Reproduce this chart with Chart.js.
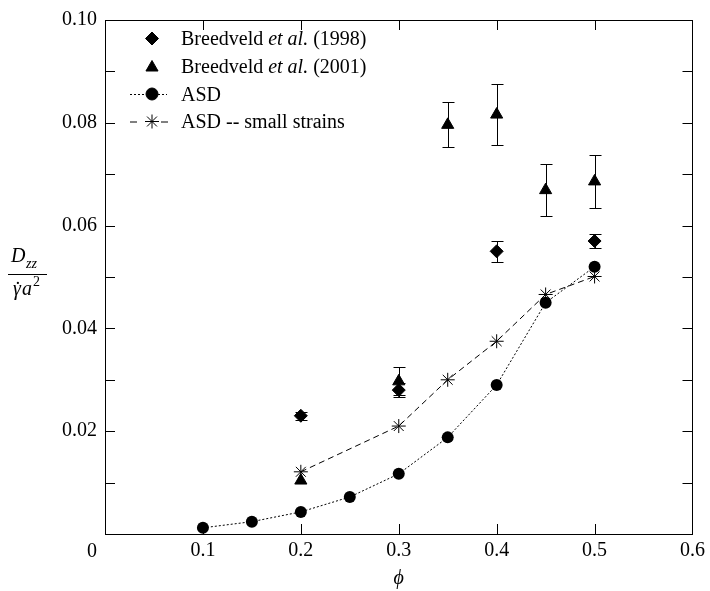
<!DOCTYPE html>
<html>
<head>
<meta charset="utf-8">
<script src="https://cdn.jsdelivr.net/npm/chart.js@4.4.1/dist/chart.umd.min.js"></script>
<style>
  html, body { margin: 0; padding: 0; background: #fff; }
  canvas { display: block; }
</style>
</head>
<body>
<canvas id="myCan" width="710" height="591"></canvas>
<script>
// data
var phiASD = [0.1, 0.15, 0.2, 0.25, 0.3, 0.35, 0.4, 0.45, 0.5];
var asd = [0.0012, 0.0024, 0.0043, 0.0072, 0.0117, 0.0188, 0.029, 0.045, 0.052];

var phiSmall = [0.2, 0.3, 0.35, 0.4, 0.45, 0.5];
var asdSmall = [0.0121, 0.021, 0.030, 0.0375, 0.0466, 0.0501];

var phi1998 = [0.2, 0.3, 0.4, 0.5];
var b1998 = [0.023, 0.028, 0.055, 0.057];
var err1998 = [0.0008, 0.0013, 0.002, 0.0014];

var phi2001 = [0.2, 0.3, 0.35, 0.4, 0.45, 0.5];
var b2001 = [0.0104, 0.0297, 0.0796, 0.0816, 0.0669, 0.0686];
var err2001 = [0, 0.0027, 0.0044, 0.006, 0.005, 0.0051];

var xTickLabels = ['', '0.1', '0.2', '0.3', '0.4', '0.5', '0.6'];
var yTickLabels = ['', '', '0.02', '', '0.04', '', '0.06', '', '0.08', '', '0.10'];
var cornerLabel = '0';

var legendRows = [
  ['Breedveld ', 'et al.', ' (1998)'],
  ['Breedveld ', 'et al.', ' (2001)'],
  ['ASD', '', ''],
  ['ASD -- small strains', '', '']
];

var serif = "'Liberation Serif', 'Times New Roman', Times, serif";
var fs = 20;

function pts(xs, ys) {
  return xs.map(function (x, i) { return { x: x, y: ys[i] }; });
}

var errPlugin = {
  id: 'errbars',
  beforeDatasetsDraw: function (chart) {
    var ctx = chart.ctx, sx = chart.scales.x, sy = chart.scales.y;
    ctx.save();
    ctx.strokeStyle = '#000';
    ctx.lineWidth = 1;
    [[phi1998, b1998, err1998], [phi2001, b2001, err2001]].forEach(function (s) {
      s[0].forEach(function (p, i) {
        if (!s[2][i]) return;
        var px = Math.round(sx.getPixelForValue(p)) + 0.5;
        var top = Math.round(sy.getPixelForValue(s[1][i] + s[2][i])) + 0.5;
        var bot = Math.round(sy.getPixelForValue(s[1][i] - s[2][i])) + 0.5;
        ctx.beginPath();
        ctx.moveTo(px, top); ctx.lineTo(px, bot);
        ctx.moveTo(px - 6, top); ctx.lineTo(px + 6, top);
        ctx.moveTo(px - 6, bot); ctx.lineTo(px + 6, bot);
        ctx.stroke();
      });
    });
    ctx.restore();
  }
};

function marker(ctx, style, r, x, y) {
  var opts = { pointStyle: style, radius: r, rotation: 0, borderWidth: 1 };
  ctx.fillStyle = '#000';
  ctx.strokeStyle = '#000';
  ctx.lineWidth = 1;
  ctx.setLineDash([]);
  Chart.helpers.drawPoint(ctx, opts, x, y);
}

var framePlugin = {
  id: 'frame',
  afterDraw: function (chart) {
    var ctx = chart.ctx, a = chart.chartArea;
    var sx = chart.scales.x, sy = chart.scales.y;
    ctx.save();
    ctx.strokeStyle = '#000';
    ctx.lineWidth = 1;
    ctx.beginPath();
    sx.ticks.forEach(function (t) {
      if (t.value <= sx.min || t.value >= sx.max) return;
      var px = Math.round(sx.getPixelForValue(t.value)) + 0.5;
      ctx.moveTo(px, a.bottom); ctx.lineTo(px, a.bottom - 10);
      ctx.moveTo(px, a.top); ctx.lineTo(px, a.top + 10);
    });
    sy.ticks.forEach(function (t) {
      if (t.value <= sy.min || t.value >= sy.max) return;
      var py = Math.round(sy.getPixelForValue(t.value)) + 0.5;
      ctx.moveTo(a.left, py); ctx.lineTo(a.left + 10, py);
      ctx.moveTo(a.right, py); ctx.lineTo(a.right - 10, py);
    });
    ctx.stroke();

    ctx.fillStyle = '#000';
    // corner "0"
    ctx.font = fs + 'px ' + serif;
    ctx.textAlign = 'center';
    ctx.textBaseline = 'alphabetic';
    ctx.fillText(cornerLabel, a.left - 13, a.bottom + 23);

    // x title
    ctx.font = 'italic 20px ' + serif;
    ctx.fillText('\u03D5', (a.left + a.right) / 2, a.bottom + 50);

    // y title as fraction
    ctx.textAlign = 'left';
    ctx.font = 'italic 20px ' + serif;
    ctx.fillText('D', 11, 262);
    ctx.font = 'italic 14px ' + serif;
    ctx.fillText('zz', 26, 268);
    ctx.beginPath();
    ctx.moveTo(8, 274.5); ctx.lineTo(47, 274.5);
    ctx.stroke();
    ctx.font = 'italic 20px ' + serif;
    var gx = 13;
    ctx.fillText('\u03B3', gx, 295);
    var gw = ctx.measureText('\u03B3').width;
    ctx.font = '20px ' + serif;
    var dw = ctx.measureText('\u02D9').width;
    ctx.fillText('\u02D9', gx + gw / 2 - dw / 2 + 1, 296);
    ctx.font = 'italic 20px ' + serif;
    ctx.fillText('a', gx + gw + 1, 295);
    var aw = ctx.measureText('a').width;
    ctx.font = '14px ' + serif;
    ctx.fillText('2', gx + gw + aw + 2, 286);

    // legend
    var rowsY = [45, 72.5, 100.5, 128];
    var mx = 152, tx = 181;
    legendRows.forEach(function (row, i) {
      var by = rowsY[i], cy = by - 6.5;
      if (i === 0) marker(ctx, 'rectRot', 6.5, mx, cy);
      if (i === 1) marker(ctx, 'triangle', 7, mx, cy + 1.5);
      if (i === 2) {
        ctx.setLineDash([2, 2]);
        ctx.beginPath(); ctx.moveTo(130, cy + 0.5); ctx.lineTo(167, cy + 0.5); ctx.stroke();
        marker(ctx, 'circle', 6, mx, cy);
      }
      if (i === 3) {
        ctx.beginPath();
        ctx.moveTo(130, cy + 0.5); ctx.lineTo(137, cy + 0.5);
        ctx.moveTo(161, cy + 0.5); ctx.lineTo(168, cy + 0.5);
        ctx.stroke();
        marker(ctx, 'star', 7, mx, cy);
      }
      ctx.setLineDash([]);
      ctx.fillStyle = '#000';
      ctx.textAlign = 'left';
      ctx.textBaseline = 'alphabetic';
      var x = tx;
      ctx.font = fs + 'px ' + serif;
      ctx.fillText(row[0], x, by);
      x += ctx.measureText(row[0]).width;
      if (row[1]) {
        ctx.font = 'italic ' + fs + 'px ' + serif;
        ctx.fillText(row[1], x, by);
        x += ctx.measureText(row[1]).width;
      }
      if (row[2]) {
        ctx.font = fs + 'px ' + serif;
        ctx.fillText(row[2], x, by);
      }
    });
    ctx.restore();
  }
};

var ctxx = document.getElementById('myCan').getContext('2d');
var myChart = new Chart(ctxx, {
  type: 'scatter',
  data: {
    datasets: [
      {
        label: 'Breedveld et al. (1998)',
        data: pts(phi1998, b1998),
        pointStyle: 'rectRot', pointRadius: 6.5,
        backgroundColor: '#000', borderColor: '#000', pointBorderWidth: 1
      },
      {
        label: 'Breedveld et al. (2001)',
        data: pts(phi2001, b2001),
        pointStyle: 'triangle', pointRadius: 7,
        backgroundColor: '#000', borderColor: '#000', pointBorderWidth: 1
      },
      {
        label: 'ASD -- small strains',
        data: pts(phiSmall, asdSmall),
        showLine: true, borderDash: [6, 4], borderWidth: 1,
        pointStyle: 'star', pointRadius: 7,
        backgroundColor: '#000', borderColor: '#000', pointBorderWidth: 1
      },
      {
        label: 'ASD',
        data: pts(phiASD, asd),
        showLine: true, borderDash: [2, 2], borderWidth: 1,
        pointStyle: 'circle', pointRadius: 6,
        backgroundColor: '#000', borderColor: '#000', pointBorderWidth: 0
      }
    ]
  },
  options: {
    responsive: false,
    devicePixelRatio: 1,
    animation: false,
    layout: { padding: 0 },
    plugins: { legend: { display: false }, tooltip: { enabled: false } },
    scales: {
      x: {
        type: 'linear', position: 'bottom', min: 0, max: 0.6,
        grid: { display: false, drawTicks: false },
        border: { display: true, color: '#000', width: 1 },
        ticks: {
          stepSize: 0.1, autoSkip: false, maxRotation: 0, padding: 5,
          color: '#000', font: { family: serif, size: fs },
          callback: function (v, i) { return xTickLabels[i]; }
        },
        afterFit: function (s) { s.height = 57; }
      },
      x2: {
        type: 'linear', position: 'top', min: 0, max: 0.6,
        grid: { display: false, drawTicks: false },
        border: { display: true, color: '#000', width: 1 },
        ticks: { display: false },
        afterFit: function (s) { s.height = 14; }
      },
      y: {
        type: 'linear', position: 'left', min: 0, max: 0.1,
        grid: { display: false, drawTicks: false },
        border: { display: true, color: '#000', width: 1 },
        ticks: {
          stepSize: 0.01, autoSkip: false, padding: 8,
          color: '#000', font: { family: serif, size: fs },
          callback: function (v, i) { return yTickLabels[i]; }
        },
        afterFit: function (s) { s.width = 105; }
      },
      y2: {
        type: 'linear', position: 'right', min: 0, max: 0.1,
        grid: { display: false, drawTicks: false },
        border: { display: true, color: '#000', width: 1 },
        ticks: { display: false },
        afterFit: function (s) { s.width = 12; }
      }
    }
  },
  plugins: [errPlugin, framePlugin]
});
</script>
</body>
</html>
